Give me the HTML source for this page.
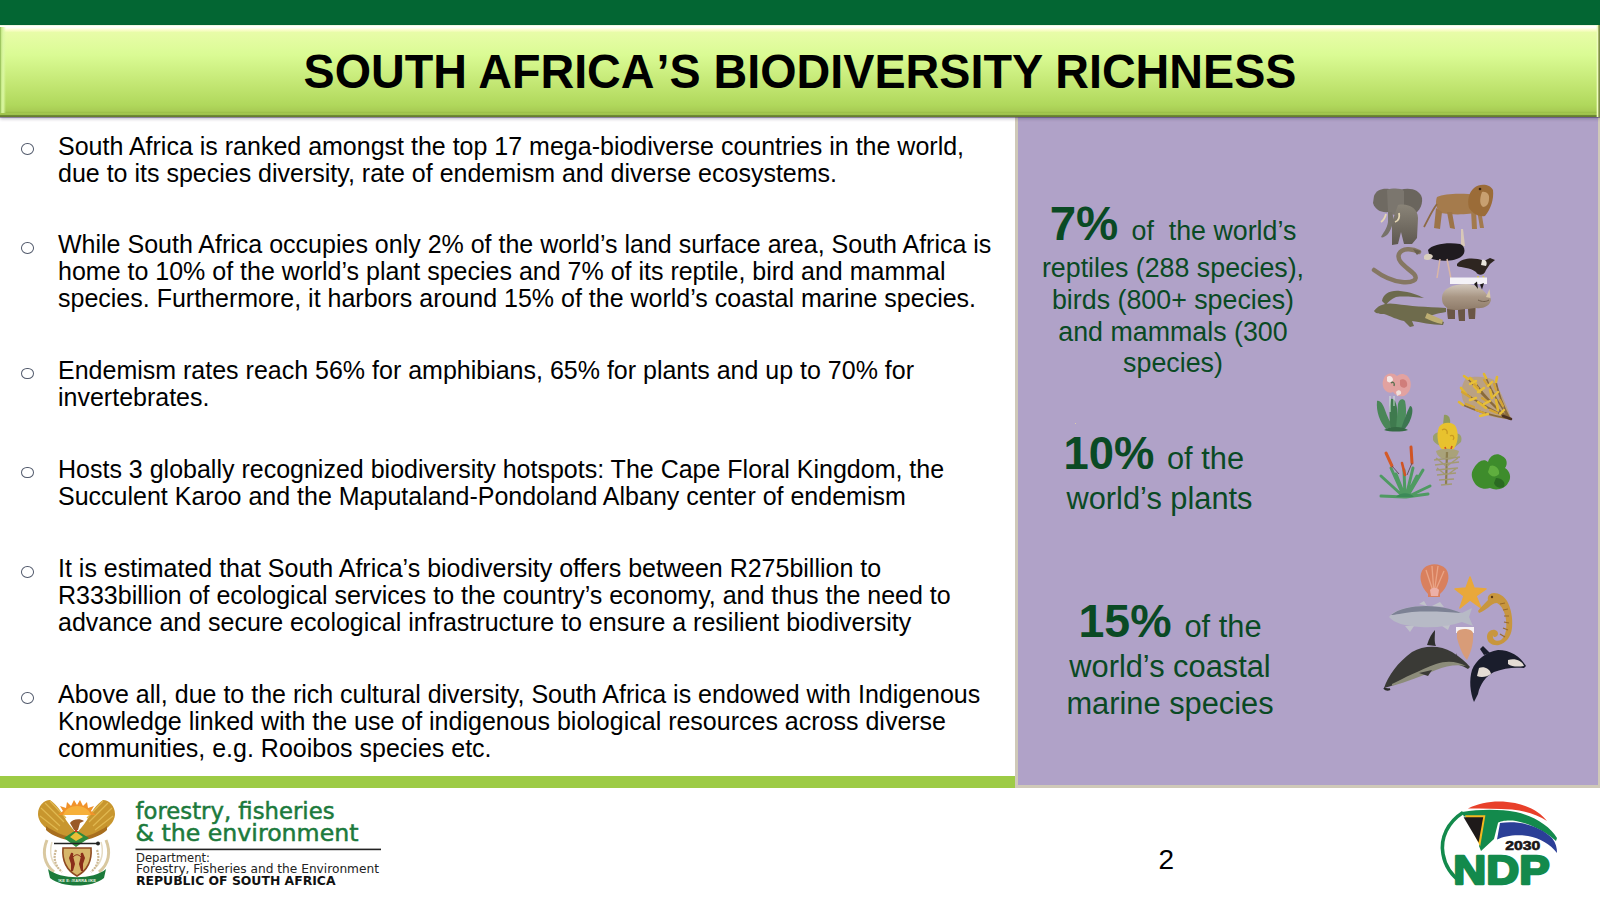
<!DOCTYPE html>
<html>
<head>
<meta charset="utf-8">
<style>
*{margin:0;padding:0;box-sizing:border-box}
html,body{width:1600px;height:900px;overflow:hidden;background:#fff}
body{position:relative;font-family:"Liberation Sans",Arial,sans-serif;color:#000}
.abs{position:absolute}
#topbar{left:0;top:0;width:1600px;height:25px;background:#036633}
#hdr{left:0;top:25px;width:1600px;height:92px;
 background:linear-gradient(to bottom,#e8f4d0 0px,#ffffff 1.5px,#fffff2 3px,#fbfdcc 5px,#e8fca8 7.5px,#dafb94 30px,#c2e672 60px,#b0d85c 80px,#a8cc54 86px,#9cc04a 87.5px,#a4c850 88.8px,#9ec24c 89.6px,#6e8a34 90.4px,#62782c 92px);
 box-shadow:0 1px 0 rgba(60,40,90,.42),0 2px 3px rgba(60,50,90,.32)}
#hdrL{left:0;top:27px;width:6px;height:86px;background:linear-gradient(to right,#86b048 0,#c4e884 1.2px,#dcf8a4 3px,rgba(225,250,160,0) 6px)}
#hdrR{left:1596px;top:25px;width:4px;height:92px;background:linear-gradient(to right,rgba(230,252,170,0) 0,#eefcc0 1.5px,#a0b060 2.6px,#6a7a40 4px)}
#title{left:0;top:26px;width:1600px;height:91px;text-align:center;font-weight:bold;font-size:46.7px;line-height:91px;letter-spacing:0;transform:scaleY(1.035)}
#panel{left:1015px;top:117px;width:585px;height:670.5px;background:#cfc9b8}
#panelin{left:1017.5px;top:117px;width:580.5px;height:668px;background:#b0a2c8}
#gline{left:0;top:776px;width:1015px;height:11.5px;background:#9dcb45}
.p{position:absolute;left:58px;margin-top:0.5px;font-size:25px;line-height:26.8px;white-space:nowrap;color:#000}
.b{position:absolute;left:21.3px;width:12.6px;height:11.6px;border:1.6px solid #525a6c;border-radius:50%}
.g{position:absolute;color:#0a4a24;white-space:nowrap;font-size:26px}
.big{font-weight:bold}
.c{text-align:center}
</style>
</head>
<body>
<div id="topbar" class="abs"></div>
<div id="panel" class="abs"></div>
<div id="panelin" class="abs"></div>
<div id="hdr" class="abs"></div>
<div id="hdrL" class="abs"></div>
<div id="hdrR" class="abs"></div>
<div id="title" class="abs">SOUTH AFRICA<span style="margin-left:2px">’S BIODIVERSITY RICHNESS</span></div>
<div id="gline" class="abs"></div>

<!-- bullets -->
<div class="b" style="top:143px"></div>
<div class="p" style="top:132.6px">South Africa is ranked amongst the top 17 mega-biodiverse countries in the world,<br>due to its species diversity, rate of endemism and diverse ecosystems.</div>
<div class="b" style="top:242px"></div>
<div class="p" style="top:230.9px">While South Africa occupies only 2% of the world’s land surface area, South Africa is<br>home to 10% of the world’s plant species and 7% of its reptile, bird and mammal<br>species. Furthermore, it harbors around 15% of the world’s coastal marine species.</div>
<div class="b" style="top:367.7px"></div>
<div class="p" style="top:356.6px">Endemism rates reach 56% for amphibians, 65% for plants and up to 70% for<br>invertebrates.</div>
<div class="b" style="top:466.7px"></div>
<div class="p" style="top:455.6px">Hosts 3 globally recognized biodiversity hotspots: The Cape Floral Kingdom, the<br>Succulent Karoo and the Maputaland-Pondoland Albany center of endemism</div>
<div class="b" style="top:566px"></div>
<div class="p" style="top:554.9px">It is estimated that South Africa’s biodiversity offers between R275billion to<br>R333billion of ecological services to the country’s economy, and thus the need to<br>advance and secure ecological infrastructure to ensure a resilient biodiversity</div>
<div class="b" style="top:692px"></div>
<div class="p" style="top:680.9px">Above all, due to the rich cultural diversity, South Africa is endowed with Indigenous<br>Knowledge linked with the use of indigenous biological resources across diverse<br>communities, e.g. Rooibos species etc.</div>

<!-- right panel text -->
<div class="g c" style="left:1023px;top:201.3px;width:300px;font-size:26.8px;line-height:46px"><span class="big" style="font-size:47.5px">7% </span>of&nbsp; the world’s</div>
<div class="g c" style="left:1023px;top:253px;width:300px;font-size:26.8px;line-height:30px">reptiles (288 species),</div>
<div class="g c" style="left:1023px;top:284.5px;width:300px;font-size:26.8px;line-height:30px">birds (800+ species)</div>
<div class="g c" style="left:1023px;top:316.5px;width:300px;font-size:26.8px;line-height:30px">and mammals (300</div>
<div class="g c" style="left:1023px;top:348px;width:300px;font-size:26.8px;line-height:30px">species)</div>
<div class="g" style="left:1063.5px;top:430.5px;font-size:30.8px;line-height:46px"><span class="big" style="font-size:45.4px">10% </span>of the</div>
<div class="g" style="left:1066.5px;top:482.8px;font-size:30.8px;line-height:32px">world’s plants</div>
<div class="g c" style="left:1020px;top:597.7px;width:300px;font-size:30.8px;line-height:46px"><span class="big" style="font-size:46.5px">15% </span>of the</div>
<div class="g c" style="left:1020px;top:651.3px;width:300px;font-size:30.8px;line-height:32px">world’s coastal</div>
<div class="g c" style="left:1020px;top:688.3px;width:300px;font-size:30.8px;line-height:32px">marine species</div>

<svg class="abs" style="left:0;top:0" width="1600" height="900" viewBox="0 0 1600 900">
<!-- ===== Group 1: animals ===== -->
<!-- elephant -->
<defs><linearGradient id="eg" x1="0" y1="0" x2="0" y2="1"><stop offset="0" stop-color="#8a8478"/><stop offset="1" stop-color="#5e5850"/></linearGradient></defs>
<g>
 <path d="M1374,196 C1376,189 1386,187 1392,190 L1388,212 C1382,213 1375,210 1373,203 Z" fill="#6f6a62"/>
 <path d="M1400,190 C1410,187 1420,190 1422,198 C1423,206 1418,214 1410,216 L1402,212 Z" fill="#6a655d"/>
 <path d="M1387,190 C1392,188 1401,188 1404,191 L1404,212 C1400,216 1392,216 1388,212 Z" fill="#7b766e"/>
 <path d="M1398,205 C1408,203 1418,208 1418,218 L1417,238 L1412,244 L1404,244 L1401,232 L1398,244 L1392,245 L1392,222 Z" fill="url(#eg)"/>
 <path d="M1392,212 C1395,220 1392,228 1388,234 C1385,237 1382,238 1381,237 C1383,233 1387,229 1388,222 L1388,212 Z" fill="#77726a"/>
 <path d="M1386,214 C1385,218 1384,220 1381,222" stroke="#e6d8b4" stroke-width="1.8" fill="none"/>
 <path d="M1399,213 C1400,218 1398,221 1395,222" stroke="#e6d8b4" stroke-width="1.8" fill="none"/>
</g>
<!-- lion -->
<g>
 <path d="M1437,197 C1445,193 1465,193 1476,195 L1478,212 C1470,215 1450,215 1441,213 C1436,210 1435,202 1437,197 Z" fill="#a57b4c"/>
 <path d="M1437,204 C1431,212 1428,220 1424,227" stroke="#8d6a44" stroke-width="1.8" fill="none"/>
 <path d="M1436,208 L1434,228 L1440,229 L1442,212 Z M1447,212 L1450,228 L1455,229 L1452,212 Z" fill="#9c7448"/>
 <path d="M1471,210 L1472,229 L1477,229 L1476,210 Z M1477,210 L1480,228 L1484,228 L1481,210 Z" fill="#a27a4e"/>
 <path d="M1474,188 C1480,183 1490,184 1493,190 C1494,199 1491,209 1485,216 C1479,217 1473,214 1469,208 C1467,200 1469,192 1474,188 Z" fill="#9b6c38"/>
 <path d="M1482,192 C1486,191 1490,194 1489,199 C1489,204 1486,207 1483,207 C1480,205 1479,200 1482,192 Z" fill="#c8a070"/>
 <circle cx="1480" cy="189" r="1.3" fill="#3a2410"/>
</g>
<!-- snake -->
<path d="M1419,252 C1412,248 1402,248 1399,254 C1396,262 1408,268 1414,274 C1419,280 1412,283 1402,282 C1392,281 1382,276 1374,270" stroke="#857762" stroke-width="4.5" fill="none" stroke-linecap="round"/>
<path d="M1413,249 L1421,251 L1417,255 Z" fill="#6a604e"/>
<!-- ostrich -->
<g>
 <path d="M1461,229 L1463,229 L1465,246 L1461,247 Z" fill="#d8c8b8"/>
 <path d="M1428,250 C1432,244 1448,242 1460,244 C1465,246 1466,252 1462,256 C1455,262 1438,262 1430,258 Z" fill="#1f1b1f"/>
 <path d="M1424,256 C1426,253 1431,253 1433,256 C1432,260 1427,261 1424,259 Z" fill="#d9cfbd"/>
 <path d="M1440,259 L1437,278 M1447,259 L1451,279" stroke="#d9b6a6" stroke-width="1.5" fill="none"/>
</g>
<!-- eagle -->
<g>
 <path d="M1457,264 C1462,258 1474,257 1484,261 L1490,258 L1495,260 L1490,264 L1486,270 C1484,276 1478,276 1476,272 C1470,267 1462,268 1457,266 Z" fill="#2e2520"/>
 <path d="M1482,260 C1485,259 1488,262 1486,266 L1481,265 Z" fill="#e8e4dc"/>
 <path d="M1478,276 L1478,278 M1483,276 L1484,278" stroke="#d6c840" stroke-width="1.5"/>
</g>
<rect x="1450" y="277.5" width="37" height="6.5" fill="#f4f2f7"/>
<!-- crocodile -->
<g>
 <path d="M1382,301 C1383,294 1390,290 1400,291 C1410,292 1418,295 1424,298 C1414,297 1404,296 1396,297 C1391,299 1388,302 1386,305 Z" fill="#6c6a4d"/>
 <path d="M1374,311 C1378,305 1386,302 1396,304 C1410,306 1425,307 1446,308 L1446,312 C1436,314 1428,315 1432,318 L1444,322 L1443,325 C1432,325 1420,322 1412,321 L1414,326 L1410,327 L1404,321 C1398,320 1390,316 1384,314 C1380,314 1376,314 1374,311 Z" fill="#6e6b4c"/>
 <path d="M1427,313 L1443,320 L1442,324 C1436,323 1430,320 1425,318 Z" fill="#bdae72"/>
</g>
<!-- rhino -->
<defs>
 <linearGradient id="rg" x1="0" y1="0" x2="0" y2="1"><stop offset="0" stop-color="#d2c8bc"/><stop offset="0.35" stop-color="#a89684"/><stop offset="1" stop-color="#7a6654"/></linearGradient>
</defs>
<g>
 <path d="M1442,298 C1442,289 1452,284 1466,284 C1476,284 1483,289 1487,295 L1489,292 L1491,300 C1490,306 1483,309 1476,308 L1475,319 L1469,319 L1468,309 L1465,309 L1465,321 L1459,321 L1458,310 L1455,310 L1455,319 L1448,319 L1447,308 C1443,305 1442,302 1442,298 Z" fill="url(#rg)"/>
 <path d="M1447,309 L1455,310 L1455,319 L1448,319 Z M1458,310 L1465,309 L1465,321 L1459,321 Z M1468,309 L1475,308 L1475,319 L1469,319 Z" fill="#6a5646"/>
 <path d="M1474,284 L1477,281.5 L1478,289 Z M1480,284.5 L1484,283 L1482,289.5 Z" fill="#1c1816"/>
 <path d="M1486,297 L1489.5,289 L1490.5,298 Z" fill="#d8c8a8"/>
 <path d="M1478,300 C1482,302 1486,302 1489,300" stroke="#6e5c4c" stroke-width="1" fill="none"/>
</g>
</svg>

<svg class="abs" style="left:0;top:0" width="1600" height="900" viewBox="0 0 1600 900">
<!-- ===== Group 2: plants ===== -->
<!-- pink flower succulent -->
<g>
 <path d="M1386,429 C1380,422 1376,412 1377,401 C1380,400 1383,404 1385,410 C1387,416 1390,422 1393,427 Z" fill="#4a8658"/>
 <path d="M1391,429 C1389,420 1389,408 1391,399 C1394,398 1396,402 1397,408 L1398,429 Z" fill="#3f7a4e"/>
 <path d="M1396,429 L1398,404 C1399,399 1403,398 1405,401 C1407,410 1406,420 1403,429 Z" fill="#4c8c5c"/>
 <path d="M1401,429 C1404,420 1407,412 1410,406 C1413,406 1413,412 1411,418 C1409,424 1406,428 1403,430 Z" fill="#3c7650"/>
 <path d="M1384,430 C1390,426 1402,426 1408,430 C1402,432 1390,432 1384,430 Z" fill="#356a44"/>
 <path d="M1390,396 L1390,412 M1394,396 L1394,406" stroke="#cfe4da" stroke-width="1"/>
 <path d="M1384,378 C1386,373 1393,372 1397,376 C1401,372 1408,374 1410,380 C1412,386 1410,393 1404,396 C1399,397 1395,395 1393,392 C1389,394 1384,391 1383,386 C1382,383 1383,380 1384,378 Z" fill="#e2a2a0"/>
 <path d="M1387,377 C1389,375 1393,376 1393,380 C1392,383 1388,383 1387,381 Z" fill="#f4e6e4"/>
 <path d="M1396,392 C1398,389 1402,390 1401,394 L1397,396 Z" fill="#f0e0dc"/>
 <path d="M1400,380 C1404,378 1408,381 1407,386 C1405,389 1401,388 1400,385 Z" fill="#d07e7a"/>
 <path d="M1391,383 C1393,381 1395,383 1394,386" stroke="#5a7050" stroke-width="1.4" fill="none"/>
</g>
<!-- yellow bush -->
<path d="M1466,378 C1474,376 1486,376 1494,380 C1500,390 1506,404 1511,418 C1498,420 1480,414 1466,406 C1460,398 1460,386 1466,378 Z" fill="#c2a04a" opacity="0.55"/>
<g fill="none" stroke-linecap="round">
 <path d="M1510,419 C1498,410 1486,398 1476,384 M1510,419 C1496,412 1480,404 1466,394 M1510,419 C1500,406 1492,392 1486,378 M1510,419 C1494,416 1478,412 1463,405 M1510,419 C1502,404 1498,392 1496,382 M1508,418 C1494,408 1480,392 1468,379" stroke="#8a6a3a" stroke-width="1.6"/>
 <path d="M1476,384 L1470,378 M1466,394 L1461,388 M1486,378 L1484,374 M1463,405 L1459,402 M1496,382 L1497,377 M1468,379 L1464,376 M1480,392 L1474,386 M1492,398 L1490,390 M1486,408 L1478,402 M1498,410 L1496,400" stroke="#e2b830" stroke-width="2.6"/>
 <path d="M1472,382 L1478,388 M1462,392 L1470,397 M1484,380 L1488,386 M1466,404 L1474,407 M1494,384 L1496,390 M1482,398 L1488,402 M1490,410 L1497,413 M1476,410 L1484,413 M1500,400 L1503,406" stroke="#d4a434" stroke-width="2.2"/>
 <path d="M1470,384 L1476,381 M1478,392 L1484,388 M1488,386 L1492,382 M1470,400 L1476,398 M1484,404 L1490,401 M1494,396 L1498,392 M1480,416 L1488,414 M1500,414 L1504,410" stroke="#e8c03a" stroke-width="2.4"/>
 <path d="M1503,416 L1511,419" stroke="#4a3020" stroke-width="2.5"/>
</g>
<!-- yellow flower spike -->
<g>
 <path d="M1444,415 C1448,414 1451,418 1450,424 L1443,425 Z" fill="#8f9a5e"/>
 <path d="M1433,436 C1436,431 1442,432 1445,434 L1446,446 C1441,447 1435,444 1433,440 Z M1455,434 C1459,432 1463,436 1461,442 L1455,447 Z" fill="#9aa06c"/>
 <path d="M1439,427 C1442,422 1453,421 1456,427 C1459,434 1458,444 1453,450 C1448,453 1441,451 1439,445 C1437,439 1437,432 1439,427 Z" fill="#e8c22e"/>
 <path d="M1442,430 C1445,428 1448,430 1447,434 M1450,436 C1453,434 1455,437 1453,440" stroke="#c89a20" stroke-width="1.2" fill="none"/>
 <path d="M1445,447 L1446,450 M1452,446 L1451,449" stroke="#d05020" stroke-width="1.6"/>
 <path d="M1436,451 C1442,448 1452,448 1459,451 C1458,457 1452,460 1447,460 C1441,459 1437,456 1436,451 Z" fill="#a9a27a"/>
 <path d="M1447,452 L1446,485" stroke="#8c7e4e" stroke-width="2.2"/>
 <path d="M1434,460 L1460,457 M1435,465 L1459,462 M1436,470 L1458,468 M1437,475 L1456,473 M1439,480 L1454,479 M1441,485 L1452,484 M1436,458 L1446,466 M1458,458 L1447,466 M1437,468 L1446,475 M1457,468 L1447,475" stroke="#a39a72" stroke-width="1.4"/>
</g>
<!-- green leafy -->
<g>
 <path d="M1474,468 C1478,461 1484,458 1488,462 C1490,455 1497,452 1502,456 C1507,458 1508,464 1505,468 C1510,471 1512,478 1508,483 C1505,489 1496,491 1490,488 C1484,490 1477,488 1474,482 C1471,477 1471,472 1474,468 Z" fill="#3e8c2c"/>
 <path d="M1490,466 C1494,464 1500,468 1499,474 C1496,478 1490,477 1488,472 Z" fill="#5fae3e"/>
 <path d="M1496,478 C1502,478 1506,482 1504,487 C1500,489 1495,487 1494,483 Z" fill="#2a6a22"/>
</g>
<!-- aloe -->
<g>
 <path d="M1404,497 L1381,476 M1404,497 L1391,468 M1405,497 L1404,470 M1406,497 L1413,468 M1407,497 L1423,470 M1407,497 L1430,486 M1404,497 L1381,496 M1406,497 L1428,494 M1405,497 L1396,474 M1406,497 L1417,476" stroke="#4f9a62" stroke-width="3" stroke-linecap="round" fill="none"/>
 <path d="M1396,497 C1400,492 1410,492 1414,497 Z" fill="#3c8a58"/>
 <path d="M1386,453 L1392,466" stroke="#d45a26" stroke-width="3" stroke-linecap="round"/>
 <path d="M1411,447 L1412,463" stroke="#d05424" stroke-width="3" stroke-linecap="round"/>
 <path d="M1402,463 L1405,475" stroke="#d05424" stroke-width="2.6" stroke-linecap="round"/>
 <path d="M1392,466 L1399,474 M1412,463 L1407,475" stroke="#6a5060" stroke-width="1"/>
</g>
<!-- ===== Group 3: marine ===== -->
<!-- scallop -->
<g>
 <path d="M1428,594 C1420,586 1418,574 1424,568 C1430,563 1440,563 1446,569 C1451,576 1448,587 1440,594 L1440,597 L1428,597 Z" fill="#d9805e"/>
 <path d="M1434,594 L1426,570 M1434,594 L1432,566 M1434,594 L1438,566 M1434,594 L1444,571" stroke="#eaa486" stroke-width="1.3"/>
 <path d="M1430,590 C1432,587 1437,587 1439,590 L1438,596 L1431,596 Z" fill="#ecb0a8"/>
</g>
<!-- starfish -->
<path d="M1470,577 L1474,588 L1486,589 L1476,596 L1481,608 L1470,600 L1460,608 L1464,596 L1455,589 L1466,588 Z" fill="#e9a83a" stroke="#e9a83a" stroke-width="1.5" stroke-linejoin="round"/>
<!-- fish -->
<g>
 <path d="M1389,617 C1394,610 1408,606 1425,606 C1440,606 1452,610 1462,613 L1472,608 L1469,617 L1473,626 L1462,622 C1450,626 1436,628 1420,627 C1405,626 1394,623 1389,617 Z" fill="#b7bac6"/>
 <path d="M1391,615 C1398,609 1412,606 1426,606 C1440,606 1452,609 1461,613 C1448,612 1430,611 1412,612 C1402,613 1395,615 1391,615 Z" fill="#7c8194"/>
 <path d="M1419,604 L1424,601 L1427,606 Z M1432,606 L1440,602 L1444,607 Z M1405,626 L1410,632 L1414,626 Z M1442,626 L1448,630 L1450,625 Z" fill="#c0c2ca"/>
</g>
<!-- seahorse -->
<g>
 <path d="M1478,611 C1481,607 1485,603 1488,600 C1487,596 1490,593 1494,593 C1499,593 1504,596 1507,601 C1511,608 1513,618 1512,628 C1511,637 1506,643 1499,645 C1493,646 1487,643 1487,637 C1487,632 1491,629 1495,630 C1498,631 1499,634 1497,636 C1495,638 1493,637 1493,635 C1492,640 1497,642 1501,640 C1506,636 1507,628 1506,620 C1505,612 1502,606 1497,603 C1494,603 1491,605 1489,607 C1486,609 1482,612 1479,613 Z" fill="#c8963e"/>
 <path d="M1500,604 L1505,603 M1503,610 L1508,609 M1504,616 L1509,616 M1504,622 L1509,623 M1503,628 L1508,630 M1500,634 L1505,637" stroke="#9a6a28" stroke-width="1.2"/>
 <circle cx="1492" cy="597" r="1.2" fill="#5a3a18"/>
</g>
<!-- cone shell -->
<rect x="1456" y="627" width="18" height="6" fill="#f6f2f4"/>
<path d="M1457,632 C1459,628 1472,628 1473,633 C1474,644 1470,654 1467,660 C1463,656 1459,646 1457,638 Z" fill="#d89c78"/>
<!-- dolphin -->
<g>
 <path d="M1384,688 C1388,676 1398,662 1412,652 C1424,645 1440,645 1452,652 C1460,657 1466,662 1470,667 L1468,669 C1460,664 1450,662 1442,664 C1430,668 1420,674 1410,678 C1402,682 1392,686 1384,688 Z" fill="#3a3a36"/>
 <path d="M1392,684 C1404,678 1420,670 1436,664 C1448,660 1458,662 1466,666 C1456,664 1446,666 1436,670 C1422,676 1406,682 1392,686 Z" fill="#8c8c7a"/>
 <path d="M1427,645 C1429,638 1432,633 1435,630 C1435,636 1434,642 1436,646 Z" fill="#2e2e2c"/>
 <path d="M1419,673 L1432,670 L1428,676 Z" fill="#3a3a36"/>
 <path d="M1456,662 L1456,653 L1459,662 Z" fill="#3a3a36"/>
 <path d="M1384,688 C1386,690 1388,690 1390,689" stroke="#2a2a28" stroke-width="2"/>
</g>
<!-- orca -->
<g>
 <path d="M1474,702 C1470,692 1469,680 1472,670 C1476,660 1486,652 1498,650 C1510,650 1520,656 1526,666 L1524,668 C1514,667 1504,668 1494,672 C1486,676 1480,684 1478,694 Z" fill="#1a1d2c"/>
 <path d="M1479,668 C1483,666 1490,668 1491,674 C1487,677 1481,678 1477,676 Z" fill="#e4dcd4"/>
 <path d="M1508,660 C1514,658 1522,660 1524,666 C1518,667 1512,667 1508,664 Z" fill="#e4dcd4"/>
 <path d="M1480,649 L1483,646 L1490,653 L1484,655 Z" fill="#1a1d2c"/>
</g>
</svg>

<svg class="abs" style="left:0;top:0" width="1600" height="900" viewBox="0 0 1600 900">
<!-- ===== coat of arms ===== -->
<g>
 <!-- tusks -->
 <path d="M47,840 C42,852 44,864 54,872" stroke="#d9c8a0" stroke-width="3" fill="none"/>
 <path d="M106,840 C111,852 109,864 99,872" stroke="#d9c8a0" stroke-width="3" fill="none"/>
 <path d="M52,842 C49,852 51,862 58,868" stroke="#e6dcc4" stroke-width="1.5" fill="none"/>
 <path d="M101,842 C104,852 102,862 95,868" stroke="#e6dcc4" stroke-width="1.5" fill="none"/>
 <!-- wheat -->
 <path d="M56,850 C53,858 55,866 62,872" stroke="#cdb894" stroke-width="2.2" fill="none" stroke-dasharray="2 1"/>
 <path d="M97,850 C100,858 98,866 91,872" stroke="#cdb894" stroke-width="2.2" fill="none" stroke-dasharray="2 1"/>
 <!-- wings -->
 <path d="M38,814 C38,806 44,800 50,800 C56,804 62,812 66,820 C70,826 74,830 76,833 L70,837 C62,836 52,832 46,828 C41,824 38,819 38,814 Z" fill="#c8962e"/>
 <path d="M115,814 C115,806 109,800 103,800 C97,804 91,812 87,820 C83,826 79,830 77,833 L83,837 C91,836 101,832 107,828 C112,824 115,819 115,814 Z" fill="#c8962e"/>
 <path d="M41,808 L60,826 M45,803 L64,822 M50,801 L66,818 M40,816 L58,830" stroke="#e0b850" stroke-width="1.2"/>
 <path d="M112,808 L93,826 M108,803 L89,822 M103,801 L87,818 M113,816 L95,830" stroke="#e0b850" stroke-width="1.2"/>
 <path d="M46,826 C54,832 64,836 72,837 L68,840 C58,838 50,834 46,830 Z M107,826 C99,832 89,836 81,837 L85,840 C95,838 103,834 107,830 Z" fill="#a86e1e"/>
 <!-- sun -->
 <path d="M58,815 L63,811 L60,806 L66,808 L67,802 L71,806 L74,800 L77,805 L80,800 L83,806 L87,802 L88,808 L94,806 L91,811 L96,815 Z" fill="#f0922a"/>
 <path d="M63,815 C65,809 71,806 77,806 C83,806 89,809 91,815 Z" fill="#f6b03a"/>
 <!-- bird head -->
 <path d="M70,823 C72,819 80,818 84,821 L80,823 L78,830 L74,830 Z" fill="#9a5a28"/>
 <!-- protea -->
 <path d="M64,838 L76,830 L89,838 L76,847 Z" fill="#2e8a3c"/>
 <path d="M70,837 L76,832 L83,837 L76,841 Z" fill="#e8c038"/>
 <path d="M74,832 L76,829 L78,832 Z" fill="#d03020"/>
 <!-- spear -->
 <path d="M54,843.5 L99,843.5" stroke="#222" stroke-width="1.6"/>
 <circle cx="98" cy="843.5" r="2" fill="#222"/>
 <!-- shield -->
 <path d="M63,848 L91,848 C92,860 88,870 77,876 C66,870 62,860 63,848 Z" fill="#d7b66a" stroke="#8e4a22" stroke-width="1.6"/>
 <path d="M71,853 C73,852 74,854 73,856 L75,864 L73,871 L71,871 L71,864 L69,858 Z M83,853 C81,852 80,854 81,856 L79,864 L81,871 L83,871 L83,864 L85,858 Z" fill="#8a2e1a"/>
 <path d="M73,857 C76,854 78,854 81,857" stroke="#8a2e1a" stroke-width="1" fill="none"/>
 <!-- banner -->
 <path d="M48,869 C60,880 94,880 106,869 L104,878 C92,888 62,888 50,878 Z" fill="#1b7a3a"/>
 <text x="58" y="881.5" font-family="Liberation Sans, sans-serif" font-size="3.6" fill="#e8f0e0" font-weight="bold" textLength="38" lengthAdjust="spacingAndGlyphs">!KE E: /XARRA //KE</text>
</g>
<!-- dept text -->
<text x="135.5" y="819.4" font-family="DejaVu Sans, sans-serif" font-size="22.8" fill="#1c7a3c" stroke="#1c7a3c" stroke-width="0.5" textLength="199" lengthAdjust="spacingAndGlyphs">forestry, fisheries</text>
<text x="135.5" y="841.3" font-family="DejaVu Sans, sans-serif" font-size="22.8" fill="#1c7a3c" stroke="#1c7a3c" stroke-width="0.5" textLength="223" lengthAdjust="spacingAndGlyphs">&amp; the environment</text>
<rect x="135.5" y="848.6" width="245.5" height="1.6" fill="#222"/>
<text x="136" y="861.6" font-family="DejaVu Sans, sans-serif" font-size="11.5" fill="#222" textLength="74" lengthAdjust="spacingAndGlyphs">Department:</text>
<text x="136" y="873" font-family="DejaVu Sans, sans-serif" font-size="11.5" fill="#222" textLength="243" lengthAdjust="spacingAndGlyphs">Forestry, Fisheries and the Environment</text>
<text x="136" y="884.9" font-family="DejaVu Sans, sans-serif" font-weight="bold" font-size="11.5" fill="#111" textLength="199.5" lengthAdjust="spacingAndGlyphs">REPUBLIC OF SOUTH AFRICA</text>
<!-- ===== NDP logo ===== -->
<g>
 <!-- red arc -->
 <path d="M1468,808.5 C1482,801 1500,800 1515,803 C1530,806 1541,813 1547,821 C1538,815 1526,811 1512,809.5 C1498,808.5 1484,809 1468,808.5 Z" fill="#e8402a"/>
 <!-- green band & Y -->
 <path d="M1462,812 C1480,809 1500,809 1516,812 C1534,816 1550,826 1557,838 L1556,841 C1546,832 1532,824 1516,821 C1508,820 1500,821 1498,823 L1494,839 L1481,851 L1479,846 L1484,816.5 L1463.8,816.5 Z" fill="#138a4c"/>
 <!-- blue crescent -->
 <path d="M1500,823 C1520,820 1540,826 1552,838 C1556,843 1557,848 1557,853 C1550,844 1540,838 1528,836 C1516,834 1504,836 1497,839.5 Z" fill="#2b3f97"/>
 <!-- black triangle with yellow edge -->
 <path d="M1465,815.3 L1485.4,815.3 L1480.2,846.5 Z" fill="#f4b820"/>
 <path d="M1463.6,817.2 L1483.2,817.2 L1478.6,842.5 Z" fill="#1e1a1a"/>
 <!-- left C arc -->
 <path d="M1463,812.5 C1448,822 1440,838 1443,854 C1445,866 1452,876 1462,883" stroke="#138a4c" stroke-width="3.6" fill="none"/>
 <text x="1505.3" y="850.3" font-family="Liberation Sans, sans-serif" font-weight="bold" font-size="13" fill="#1a1616" textLength="35" lengthAdjust="spacingAndGlyphs" stroke="#1a1616" stroke-width="0.6">2030</text>
 <text x="1453.2" y="883.5" font-family="Liberation Sans, sans-serif" font-weight="bold" font-size="40.5" fill="#138a4c" textLength="96.5" lengthAdjust="spacingAndGlyphs" stroke="#138a4c" stroke-width="2.4" stroke-linejoin="round">NDP</text>
</g>
</svg>

<div class="abs" style="left:1074.5px;top:422.5px;width:1.5px;height:1.5px;background:#e6dca0;border-radius:50%"></div>
<!-- page number -->
<div class="abs" style="left:1158.5px;top:844.5px;font-size:28px;line-height:30px">2</div>

</body>
</html>
